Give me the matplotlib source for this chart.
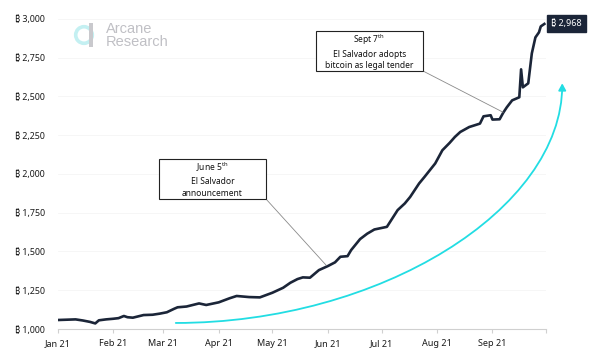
import numpy as np
import matplotlib
matplotlib.use("Agg")
import matplotlib.pyplot as plt
import matplotlib.dates as mdates
import pandas as pd
from matplotlib.patches import Circle, Rectangle, FancyArrowPatch
from matplotlib.path import Path
from matplotlib.transforms import IdentityTransform

plt.rcParams['font.family'] = ['Noto Sans', 'DejaVu Sans']
plt.rcParams['mathtext.fontset'] = 'custom'
plt.rcParams['mathtext.rm'] = 'Noto Sans'
plt.rcParams['mathtext.bf'] = 'Noto Sans:bold'

# valores
datas = ["2021-01-01", "2021-01-06", "2021-01-11", "2021-01-15", "2021-01-19", "2021-01-22",
         "2021-01-24", "2021-01-28", "2021-02-01", "2021-02-04", "2021-02-07", "2021-02-09",
         "2021-02-12", "2021-02-18", "2021-02-23", "2021-02-27", "2021-03-03", "2021-03-07",
         "2021-03-09", "2021-03-14", "2021-03-21", "2021-03-25", "2021-04-01", "2021-04-07",
         "2021-04-11", "2021-04-18", "2021-04-24", "2021-05-01", "2021-05-07", "2021-05-11",
         "2021-05-15", "2021-05-18", "2021-05-22", "2021-05-27", "2021-06-01", "2021-06-05",
         "2021-06-08", "2021-06-12", "2021-06-14", "2021-06-19", "2021-06-23", "2021-06-27",
         "2021-07-04", "2021-07-10", "2021-07-14", "2021-07-17", "2021-07-22", "2021-07-25",
         "2021-07-31", "2021-08-04", "2021-08-08", "2021-08-11", "2021-08-14", "2021-08-19",
         "2021-08-25", "2021-08-27", "2021-08-31", "2021-09-01", "2021-09-05", "2021-09-07",
         "2021-09-09", "2021-09-12", "2021-09-15", "2021-09-16", "2021-09-17", "2021-09-18",
         "2021-09-21", "2021-09-23", "2021-09-25", "2021-09-27", "2021-09-28", "2021-09-30"]
saldo = [1058, 1060, 1062, 1055, 1046, 1036,
         1056, 1062, 1066, 1070, 1084, 1076,
         1073, 1090, 1092, 1099, 1108, 1130,
         1140, 1145, 1165, 1155, 1172, 1198,
         1213, 1206, 1204, 1234, 1266, 1298,
         1322, 1333, 1331, 1380, 1406, 1430,
         1466, 1470, 1509, 1580, 1615, 1642,
         1659, 1767, 1810, 1852, 1939, 1981,
         2068, 2153, 2200, 2239, 2271, 2303,
         2325, 2372, 2379, 2351, 2353, 2395,
         2430, 2475, 2490, 2495, 2675, 2559,
         2585, 2778, 2881, 2914, 2952, 2968]

yticks = [1000, 1250, 1500, 1750, 2000, 2250, 2500, 2750, 3000]

# pontos de controle da seta ciano (bezier cúbica)
seta_datas = ["2021-03-08", "2021-06-30", "2021-10-10", "2021-10-10"]
seta_valores = [1039, 1039, 1770, 2585]

df = pd.DataFrame({"data": pd.to_datetime(datas), "saldo": saldo})

navy = '#1b2538'
ciano = '#22dde3'
W, H = 603, 358

fig = plt.figure(figsize=(6.03, 3.58), dpi=100)
ax = fig.add_axes([0.0957, 0.081, 0.81, 0.866])

ax.plot(df["data"], df["saldo"], color=navy, lw=1.9, solid_joinstyle='round', zorder=3)

ax.set_xlim(pd.Timestamp("2021-01-01"), pd.Timestamp("2021-10-01"))
ax.set_ylim(1000, 3000)
ax.set_yticks(yticks)
ax.set_yticklabels([f"\u20bf {v:,}" for v in yticks])
ax.xaxis.set_major_locator(mdates.MonthLocator())
xt = ax.get_xticks()
ax.set_xticks(xt)
labels = [mdates.num2date(t).strftime("%b %y") for t in xt]
labels[-1] = ""
ax.set_xticklabels(labels)

ax.tick_params(axis='y', length=0, pad=9, labelsize=6.4, colors='#1a1a1a')
ax.tick_params(axis='x', length=3, width=0.8, color='#d0d0d0', pad=4, labelsize=6.5,
               labelcolor='#1a1a1a')
for s in ['top', 'right', 'left']:
    ax.spines[s].set_visible(False)
ax.spines['bottom'].set_color('#d0d0d0')
ax.spines['bottom'].set_linewidth(0.8)
ax.grid(axis='y', color='#f5f5f5', lw=0.6)
ax.set_axisbelow(True)

# seta ciano decorativa
pts = np.column_stack([mdates.date2num(pd.to_datetime(seta_datas)), seta_valores])
caminho = Path(pts, [Path.MOVETO, Path.CURVE4, Path.CURVE4, Path.CURVE4])
seta = FancyArrowPatch(path=caminho, arrowstyle='-|>,head_length=4,head_width=2.2',
                       color=ciano, lw=1.3, transform=ax.transData, clip_on=False,
                       shrinkA=0, shrinkB=0)
ax.add_patch(seta)


def px(x, y):
    return x / W, 1 - y / H


# caixas de anotação
def caixa(texto, x0, y0, x1, y1, alvo):
    fig.patches.append(Rectangle(px(x0, y1), (x1 - x0) / W, (y1 - y0) / H,
                                 transform=fig.transFigure, fc='white', ec='#222222',
                                 lw=0.8, figure=fig, zorder=5))
    fig.text(*px((x0 + x1) / 2, (y0 + y1) / 2 + 0.5), texto, ha='center', va='center',
             fontsize=6.1, fontweight='bold', linespacing=1.4, color='#111111', zorder=6)
    ax.annotate("", xy=alvo, xytext=px(x1, y1), textcoords='figure fraction',
                arrowprops=dict(arrowstyle='-', color='#8a8a8a', lw=0.6,
                                shrinkA=0, shrinkB=0))


caixa("June 5$^{\\mathbf{th}}$\nEl Salvador\nannouncement", 159, 159, 266, 199,
      (pd.Timestamp("2021-05-31"), 1412))
caixa("Sept 7$^{\\mathbf{th}}$\nEl Salvador adopts\nbitcoin as legal tender", 316, 31, 423, 71,
      (pd.Timestamp("2021-09-07"), 2398))

ax.annotate(f"\u20bf {saldo[-1]:,}", xy=(df["data"].iloc[-1], saldo[-1]), xytext=(5, 0),
            textcoords='offset points', ha='left', va='center', fontsize=6.5, color='white',
            fontweight='bold', annotation_clip=False,
            bbox=dict(boxstyle='square,pad=0.45', fc=navy, ec=navy))

# logotipo
fig.patches.append(Circle((84, H - 35), 8.3, transform=IdentityTransform(),
                          fill=False, ec='#c4f0f2', lw=2.6, figure=fig))
fig.patches.append(Rectangle((89, H - 47), 4, 24, transform=IdentityTransform(),
                             fc='#c9c9cd', ec='none', figure=fig))
fig.text(*px(106, 35.5), "Arcane\nResearch", fontsize=10.5, color='#c0c0c5', va='center',
         ha='left', linespacing=0.92, family=['Liberation Sans', 'DejaVu Sans'])

fig.savefig("out.png", dpi=100)
